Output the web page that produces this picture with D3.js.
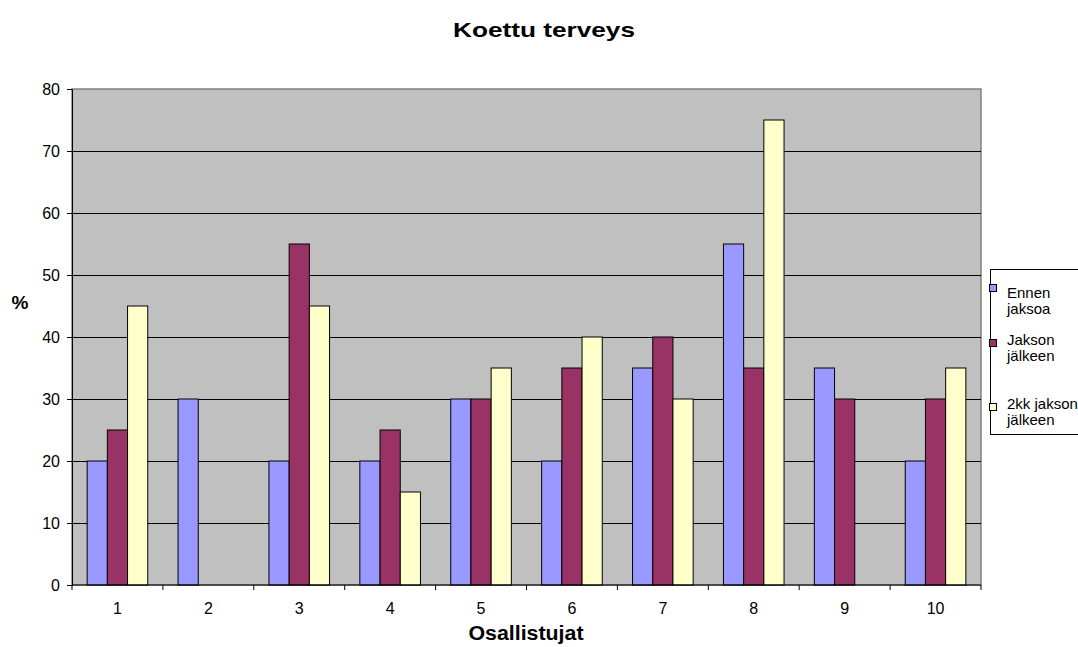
<!DOCTYPE html>
<html>
<head>
<meta charset="utf-8">
<script src="https://cdn.jsdelivr.net/npm/d3@7"></script>
<style>
  html, body { margin: 0; padding: 0; background: #ffffff; overflow: hidden; }
  svg { display: block; font-family: "Liberation Sans", Arial, sans-serif; }
</style>
</head>
<body>
<svg id="chart" width="1078" height="647"></svg>
<script>
// Participants on the x axis
const categories = ["1", "2", "3", "4", "5", "6", "7", "8", "9", "10"];
// Perceived health (%) per measurement point; null = no answer
const ennenJaksoa   = [20, 30, 20, 20, 30, 20, 35, 55, 35, 20];
const jaksonJalkeen = [25, null, 55, 25, 30, 35, 40, 35, 30, 30];
const kkJalkeen     = [45, null, 45, 15, 35, 40, 30, 75, null, 35];
const yTicks = [0, 10, 20, 30, 40, 50, 60, 70, 80];

const seriesNames = ["Ennen jaksoa", "Jakson jälkeen", "2kk jakson jälkeen"];
const seriesLabels = [["Ennen", "jaksoa"], ["Jakson", "jälkeen"], ["2kk jakson", "jälkeen"]];
const seriesValues = [ennenJaksoa, jaksonJalkeen, kkJalkeen];
const colors = ["#9999ff", "#993366", "#ffffcc"];

const svg = d3.select("#chart");
const plot = { left: 72, right: 981, top: 89, bottom: 585 };

const x0 = d3.scaleBand().domain(categories).range([plot.left, plot.right]).padding(0);
const bw = x0.bandwidth();
const x1 = d3.scaleBand().domain(seriesNames).range([bw / 6, bw * 5 / 6]).padding(0);
const y = d3.scaleLinear().domain([0, 80]).range([plot.bottom, plot.top]);

// Plot background
svg.append("rect")
  .attr("x", plot.left).attr("y", plot.top)
  .attr("width", plot.right - plot.left).attr("height", plot.bottom - plot.top)
  .attr("fill", "#c0c0c0")
  .attr("stroke", "#808080").attr("stroke-width", 1.5);

// Horizontal gridlines
svg.append("g").selectAll("line")
  .data(yTicks.filter(t => t > 0 && t < 80))
  .join("line")
  .attr("x1", plot.left).attr("x2", plot.right)
  .attr("y1", d => Math.round(y(d)) + 0.5).attr("y2", d => Math.round(y(d)) + 0.5)
  .attr("stroke", "#000").attr("stroke-width", 1);

// Bars
const rows = categories.map((c, i) => ({ cat: c, vals: seriesNames.map((s, j) => ({ s, j, v: seriesValues[j][i] })) }));
svg.append("g").selectAll("g")
  .data(rows)
  .join("g")
  .attr("transform", d => `translate(${x0(d.cat)},0)`)
  .selectAll("rect")
  .data(d => d.vals.filter(e => e.v !== null))
  .join("rect")
  .attr("x", d => x1(d.s))
  .attr("y", d => y(d.v))
  .attr("width", x1.bandwidth())
  .attr("height", d => y(0) - y(d.v))
  .attr("fill", d => colors[d.j])
  .attr("stroke", "#000").attr("stroke-width", 1);

// Y axis
const yAxis = d3.axisLeft(y).tickValues(yTicks).tickSize(5).tickPadding(7);
const gy = svg.append("g").attr("transform", `translate(${plot.left},0)`).call(yAxis);
gy.attr("font-family", null).attr("font-size", 16);
gy.select(".domain").attr("stroke", "#000");
gy.selectAll("text").attr("fill", "#000");

// X axis with ticks at category boundaries
const gx = svg.append("g").attr("transform", `translate(0,${plot.bottom})`);
gx.append("line").attr("x1", plot.left).attr("x2", plot.right).attr("stroke", "#000");
gx.selectAll("line.tick")
  .data(categories.concat(["end"]))
  .join("line").attr("class", "tick")
  .attr("x1", (d, i) => plot.left + i * bw).attr("x2", (d, i) => plot.left + i * bw)
  .attr("y1", 0).attr("y2", 5).attr("stroke", "#000");
gx.selectAll("text")
  .data(categories)
  .join("text")
  .attr("x", d => x0(d) + bw / 2).attr("y", 29)
  .attr("text-anchor", "middle").attr("font-size", 16).attr("fill", "#000")
  .text(d => d);

// Titles
svg.append("text").attr("x", 544).attr("y", 37).attr("text-anchor", "middle")
  .attr("font-size", 21).attr("font-weight", "bold")
  .attr("textLength", 182).attr("lengthAdjust", "spacingAndGlyphs")
  .text("Koettu terveys");
svg.append("text").attr("x", 526).attr("y", 640).attr("text-anchor", "middle")
  .attr("font-size", 20).attr("font-weight", "bold")
  .attr("textLength", 115).attr("lengthAdjust", "spacingAndGlyphs")
  .text("Osallistujat");
svg.append("text").attr("x", 20).attr("y", 309).attr("text-anchor", "middle")
  .attr("font-size", 19).attr("font-weight", "bold").text("%");

// Legend
const lg = svg.append("g");
lg.append("rect").attr("x", 990.5).attr("y", 269.5).attr("width", 100).attr("height", 165)
  .attr("fill", "#fff").attr("stroke", "#000");
const legendTop = [284, 339, 403];
const legendBase = [298, 345, 409];
seriesNames.forEach((s, j) => {
  lg.append("rect").attr("x", 989.5).attr("y", legendTop[j] + 0.5).attr("width", 7).attr("height", 7)
    .attr("fill", colors[j]).attr("stroke", "#000");
  const t = lg.append("text").attr("font-size", 15).attr("fill", "#000");
  seriesLabels[j].forEach((line, k) => {
    t.append("tspan").attr("x", 1007).attr("y", legendBase[j] + k * 15.5).text(line);
  });
});
</script>
</body>
</html>
